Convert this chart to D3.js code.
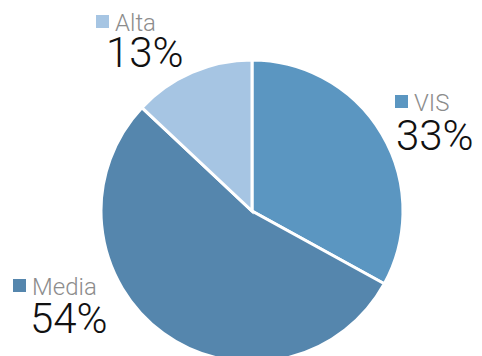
<!DOCTYPE html>
<html lang="es">
<head>
  <meta charset="UTF-8">
  <title>Pie</title>
  <script src="https://d3js.org/d3.v7.min.js"></script>
  <style>
    body { margin: 0; background: #fff; }
    .name { font-family: Roboto, "Liberation Sans", sans-serif; font-weight: 300; font-size: 24px; fill: #8c8c8c; }
    .pct { font-family: Roboto, "Liberation Sans", sans-serif; font-weight: 300; font-size: 42px; fill: #111; }
  </style>
</head>
<body>
  <svg width="482" height="356"></svg>
  <script>
    const categories = ["VIS", "Media", "Alta"];
    const values = [33, 54, 13];
    const colors = ["#5b96c1", "#5586ad", "#a6c5e3"];

    // label spots (square top-left) picked to match the layout
    const labelAt = [[395, 95], [13, 279], [96, 15]];
    const pctOffset = [[1, 55], [17, 54], [10, 52]];

    const cx = 252, cy = 211, r = 151;
    const svg = d3.select("svg");

    const data = categories.map((c, i) => ({ name: c, value: values[i], color: colors[i] }));

    const pie = d3.pie().value(d => d.value).sort(null);
    const arc = d3.arc().innerRadius(0).outerRadius(r);

    svg.append("g")
      .attr("transform", `translate(${cx},${cy})`)
      .selectAll("path")
      .data(pie(data))
      .join("path")
      .attr("d", arc)
      .attr("fill", d => d.data.color)
      .attr("stroke", "#fff")
      .attr("stroke-width", 3)
      .attr("stroke-linejoin", "miter");

    const labels = svg.selectAll(".lbl")
      .data(data)
      .join("g")
      .attr("class", "lbl")
      .attr("transform", (d, i) => `translate(${labelAt[i][0]},${labelAt[i][1]})`);

    labels.append("rect")
      .attr("width", 13).attr("height", 13)
      .attr("fill", d => d.color);

    labels.append("text")
      .attr("class", "name")
      .attr("x", 19)
      .attr("y", 16)
      .text(d => d.name);

    labels.append("text")
      .attr("class", "pct")
      .attr("x", (d, i) => pctOffset[i][0])
      .attr("y", (d, i) => pctOffset[i][1])
      .text(d => d.value + "%");
  </script>
</body>
</html>
